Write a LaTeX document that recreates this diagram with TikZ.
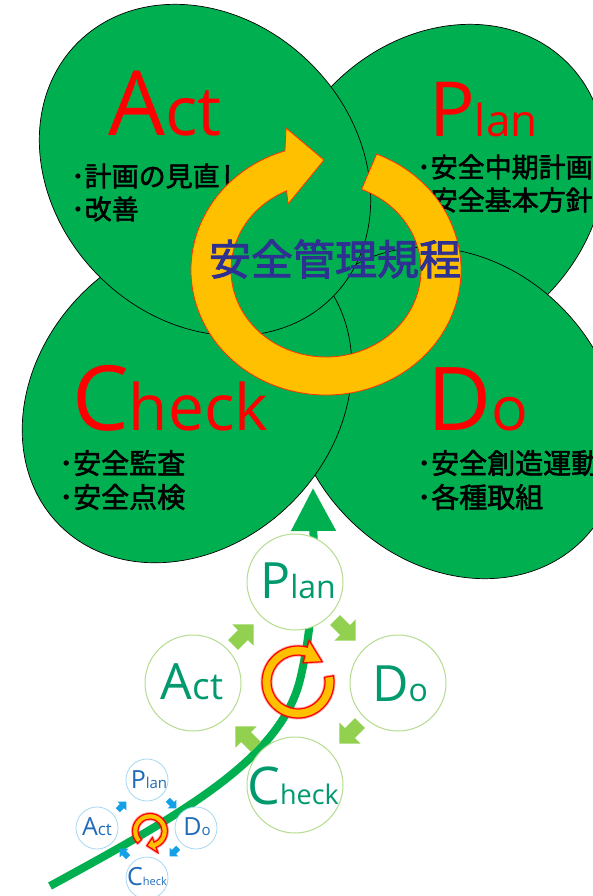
\documentclass[tikz,border=0pt]{standalone}
\usepackage{fontspec}
\newfontfamily\jp[FakeBold=2]{Noto Sans CJK JP}
\newfontfamily\lat{Open Sans}
\usetikzlibrary{calc,arrows.meta}
\definecolor{leafg}{HTML}{00B050}
\definecolor{ringo}{HTML}{FFC000}
\definecolor{ringr}{HTML}{FF3300}
\definecolor{cblue}{HTML}{2E3192}
\definecolor{lgarrow}{HTML}{92D050}
\definecolor{lgline}{HTML}{B5DC8F}
\definecolor{pdteal}{HTML}{009A6E}
\definecolor{lbline}{HTML}{A6D8F2}
\definecolor{btext}{HTML}{1F6BB8}
\definecolor{barrowc}{HTML}{14A0E6}
\tikzset{
  garrow/.pic={\fill[lgarrow] (-14,-7) -- (0,-7) -- (0,-15) -- (15,0) -- (0,15) -- (0,7) -- (-14,7) -- cycle;},
  barrow/.pic={\fill[barrowc] (-14,-7) -- (0,-7) -- (0,-15) -- (15,0) -- (0,15) -- (0,7) -- (-14,7) -- cycle;},
}
\begin{document}
\begin{tikzpicture}[x=1pt,y=-1pt,
  leaf/.style={fill=leafg,draw=black,line width=0.7pt},
  bigred/.style={text=red,inner sep=0pt,anchor=base west},
  item/.style={anchor=west,inner sep=0pt,text=black},
  ring/.style={fill=ringo,draw=ringr,line width=0.8pt,line join=miter},
  ringglow/.style={draw=red,line width=3pt,opacity=0.35,line join=round},
  ringsmall/.style={fill=ringo,draw=red,line width=1.2pt,line join=miter},
  mcirc/.style={circle,draw=lgline,fill=white,line width=1pt,minimum size=96pt,inner sep=0pt},
  scirc/.style={circle,draw=lbline,fill=white,line width=0.8pt,minimum size=42pt,inner sep=0pt},
  mtext/.style={text=pdteal,anchor=base,inner sep=0pt},
  stext/.style={text=btext,anchor=base,inner sep=0pt},
]
\fill[white] (0,0) rectangle (593,896);
\useasboundingbox (0,0) rectangle (593,896);

% ---- leaves ----
\draw[leaf,rotate around={45:(440,190)}] (440,190) ellipse [x radius=180,y radius=150];
\draw[leaf,rotate around={-45:(455,413)}] (455,413) ellipse [x radius=180,y radius=150];
\draw[leaf,rotate around={45:(187,398)}] (187,398) ellipse [x radius=180,y radius=148];
\draw[leaf,rotate around={-45:(205,170)}] (205,170) ellipse [x radius=180,y radius=150];

% ---- leaf texts ----
\node[bigred,font=\lat\fontsize{90}{90}\selectfont] (tAct) at (108,136) {A{\fontsize{68}{68}\selectfont ct}};
\node[bigred,font=\lat\fontsize{76}{76}\selectfont] (tPlan) at (429,137) {P{\fontsize{44}{44}\selectfont lan}};
\node[bigred,font=\lat\fontsize{90}{90}\selectfont] (tCheck) at (72,430) {C{\fontsize{64}{64}\selectfont heck}};
\node[bigred,font=\lat\fontsize{88}{88}\selectfont] (tDo) at (427,430) {D{\fontsize{61}{61}\selectfont o}};

\node[item,font=\jp\fontsize{27}{27}\selectfont] (iA1) at (71,176) {･計画の見直し};
\node[item,font=\jp\fontsize{27}{27}\selectfont] (iA2) at (71,209) {･改善};
\node[item,font=\jp\fontsize{27}{27}\selectfont] (iP1) at (417,167) {･安全中期計画};
\node[item,font=\jp\fontsize{27}{27}\selectfont] (iP2) at (417,200) {･安全基本方針};
\node[item,font=\jp\fontsize{28}{28}\selectfont] (iC1) at (59,463) {･安全監査};
\node[item,font=\jp\fontsize{28}{28}\selectfont] (iC2) at (59,497) {･安全点検};
\node[item,font=\jp\fontsize{28}{28}\selectfont] (iD1) at (417,463) {･安全創造運動};
\node[item,font=\jp\fontsize{28}{28}\selectfont] (iD2) at (417,497) {･各種取組};

% ---- big ring ----
\coordinate (rc) at (326,270);
\path[ring] ($(rc)+(-68:135 and 125)$) arc[start angle=-68,end angle=252.3,x radius=135,y radius=125]
  -- (286,128) -- (324,160) -- (288,204) -- ($(rc)+(245.5:95 and 87)$)
  arc[start angle=245.5,end angle=-68,x radius=95,y radius=87] -- cycle;

% ---- central text ----
\coordinate (ctc) at (335,259);
\node[text=cblue,font=\jp\fontsize{42}{42}\selectfont] (ctext) at (ctc) {安全管理規程};

% ---- stem ----
\coordinate (stemS) at (50,886);
\coordinate (stemM) at (300,680);
\coordinate (stemE) at (313,488);
\draw[leafg,line width=8pt,-{Triangle[width=43pt,length=43pt]}] (stemS) .. controls (180,815) and (280,760) .. (stemM) .. controls (312,630) and (314,580) .. (stemE);

% ---- middle PDCA ----
\node[mcirc] (mPlan) at (295,582) {};
\node[mcirc] (mAct) at (193,683) {};
\node[mcirc] (mDo) at (398,683) {};
\node[mcirc] (mCheck) at (295,785) {};
\node[mtext,font=\lat\fontsize{50}{50}\selectfont] (mPlanT) at ($(mPlan)+(3,16)$) {P{\fontsize{32}{32}\selectfont lan}};
\node[mtext,font=\lat\fontsize{50}{50}\selectfont] (mActT) at ($(mAct)+(-1,16)$) {A{\fontsize{37}{37}\selectfont ct}};
\node[mtext,font=\lat\fontsize{50}{50}\selectfont] (mDoT) at ($(mDo)+(2,18)$) {D{\fontsize{32}{32}\selectfont o}};
\node[mtext,font=\lat\fontsize{52}{52}\selectfont] (mCheckT) at ($(mCheck)+(-2,19)$) {C{\fontsize{27}{27}\selectfont heck}};

\pic[rotate=45] (mA1) at (243,635) {garrow};
\pic[rotate=-45] (mA2) at (345,630) {garrow};
\pic[rotate=-135] (mA3) at (350,733) {garrow};
\pic[rotate=135] (mA4) at (246,737) {garrow};

\coordinate (mrc) at (298,682);
\path[ringglow] ($(mrc)+(-10:36)$) arc[start angle=-10,end angle=285,radius=36] -- ($(mrc)+(285:43)$) -- ($(mrc)+(320:31.5)$) -- ($(mrc)+(285:20)$) -- ($(mrc)+(285:27)$) arc[start angle=285,end angle=-10,radius=27] -- cycle;
\path[ringsmall] ($(mrc)+(-10:36)$) arc[start angle=-10,end angle=285,radius=36] -- ($(mrc)+(285:43)$) -- ($(mrc)+(320:31.5)$) -- ($(mrc)+(285:20)$) -- ($(mrc)+(285:27)$) arc[start angle=285,end angle=-10,radius=27] -- cycle;

% ---- small PDCA ----
\node[scirc] (sPlan) at (147,780) {};
\node[scirc] (sAct) at (97,828) {};
\node[scirc] (sDo) at (196,828) {};
\node[scirc] (sCheck) at (147,878) {};
\node[stext,font=\lat\fontsize{25}{25}\selectfont] (sPlanT) at ($(sPlan)+(2,8)$) {P{\fontsize{15}{15}\selectfont lan}};
\node[stext,font=\lat\fontsize{25}{25}\selectfont] (sActT) at ($(sAct)+(0,7)$) {A{\fontsize{17}{17}\selectfont ct}};
\node[stext,font=\lat\fontsize{25}{25}\selectfont] (sDoT) at ($(sDo)+(1,7)$) {D{\fontsize{15}{15}\selectfont o}};
\node[stext,font=\lat\fontsize{25}{25}\selectfont] (sCheckT) at ($(sCheck)+(0,7)$) {C{\fontsize{11}{11}\selectfont heck}};

\pic[rotate=45,scale=0.42] (sA1) at (122,806) {barrow};
\pic[rotate=-45,scale=0.42] (sA2) at (172,804) {barrow};
\pic[rotate=-135,scale=0.42] (sA3) at (174,852) {barrow};
\pic[rotate=135,scale=0.42] (sA4) at (124,853) {barrow};

\coordinate (src) at (150,831);
\path[ringglow] ($(src)+(135:17.5)$) arc[start angle=135,end angle=430,radius=17.5] -- ($(src)+(430:23)$) -- ($(src)+(462:15)$) -- ($(src)+(430:7)$) -- ($(src)+(430:12)$) arc[start angle=430,end angle=135,radius=12] -- cycle;
\path[ringsmall] ($(src)+(135:17.5)$) arc[start angle=135,end angle=430,radius=17.5] -- ($(src)+(430:23)$) -- ($(src)+(462:15)$) -- ($(src)+(430:7)$) -- ($(src)+(430:12)$) arc[start angle=430,end angle=135,radius=12] -- cycle;
\end{tikzpicture}
\end{document}
